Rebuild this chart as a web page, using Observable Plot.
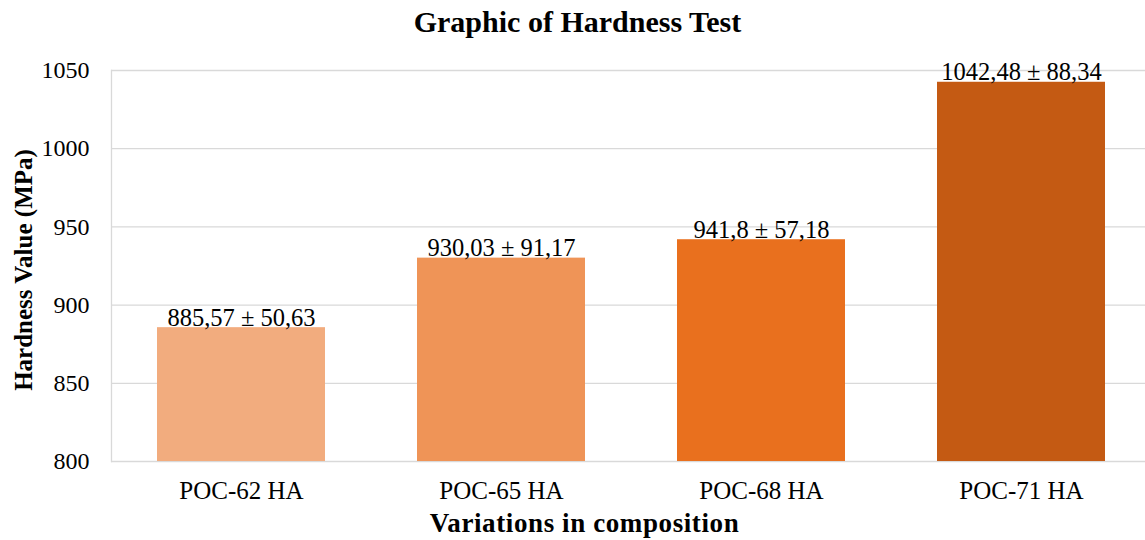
<!DOCTYPE html>
<html>
<head>
<meta charset="utf-8">
<script src="https://cdn.jsdelivr.net/npm/d3@7"></script>
<script src="https://cdn.jsdelivr.net/npm/@observablehq/plot@0.6"></script>
<style>
  html, body { margin: 0; padding: 0; background: #fff; }
  body { width: 1145px; height: 540px; overflow: hidden; font-family: "Liberation Serif", "Times New Roman", serif; }
  #title { width: 1145px; height: 40px; line-height: 44px; text-align: center; font-weight: bold; font-size: 30px; color: #000; padding-left: 10px; box-sizing: border-box; }
  #xlabel { width: 1145px; height: 35px; line-height: 36px; text-align: center; font-weight: bold; font-size: 27px; color: #000; padding-left: 24px; box-sizing: border-box; letter-spacing: 0.6px; }
  #chart { width: 1145px; height: 465px; overflow: hidden; }
  #chart svg { display: block; max-width: none !important; }
</style>
</head>
<body>
<div id="title">Graphic of Hardness Test</div>
<div id="chart"></div>
<div id="xlabel">Variations in composition</div>
<script>
const categories = ["POC-62 HA", "POC-65 HA", "POC-68 HA", "POC-71 HA"];
const means = [885.57, 930.03, 941.8, 1042.48];
const sds = [50.63, 91.17, 57.18, 88.34];
const yTicks = [800, 850, 900, 950, 1000, 1050];
const palette = ["#F2AC7E", "#EF9457", "#E9701E", "#C45A13"];

const fmt = v => String(v).replace(".", ",");
const data = categories.map((c, i) => ({
  category: c,
  mean: means[i],
  label: fmt(means[i]) + " \u00B1 " + fmt(sds[i])
}));

const chart = Plot.plot({
  width: 1152,
  height: 465,
  marginTop: 30,
  marginBottom: 44,
  marginLeft: 111,
  marginRight: 0,
  style: { fontFamily: "'Liberation Serif', 'Times New Roman', serif", fontSize: "24px", color: "#000", background: "#fff" },
  x: { domain: categories, paddingInner: 0.352, paddingOuter: 0.176, label: null },
  y: { domain: [800, 1050], ticks: yTicks, label: null },
  color: { domain: categories, range: palette },
  marks: [
    Plot.gridY(yTicks, { stroke: "#d9d9d9", strokeOpacity: 1, strokeWidth: 1.3 }),
    Plot.frame({ anchor: "left", stroke: "#d9d9d9", strokeWidth: 1.3 }),
    Plot.barY(data, { x: "category", y1: 800, y2: "mean", fill: "category" }),
    Plot.axisY(yTicks, { tickSize: 0, tickPadding: 22, fontSize: 24, tickFormat: d => String(d), label: null }),
    Plot.axisX({ tickSize: 0, tickPadding: 20, fontSize: 25, label: null }),
    Plot.text(data, { x: "category", y: "mean", text: "label", lineAnchor: "bottom", dy: -2, fontSize: 24.5, fill: "#000" }),
    Plot.text(["Hardness Value (MPa)"], { frameAnchor: "left", textAnchor: "middle", dx: -88, dy: 4, rotate: -90, fontWeight: "bold", fontSize: 25, fill: "#000" })
  ]
});
document.getElementById("chart").appendChild(chart);
</script>
</body>
</html>
